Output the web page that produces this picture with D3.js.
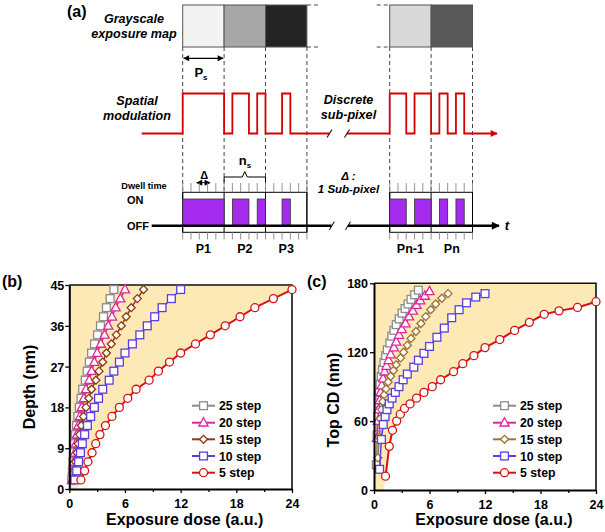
<!DOCTYPE html>
<html><head><meta charset="utf-8">
<script src="https://cdn.jsdelivr.net/npm/d3@7"></script>
<style>
body{margin:0;background:#fff}
svg{display:block}
text{font-family:"Liberation Sans",Arial,Helvetica,sans-serif;font-weight:bold;fill:#000}
</style>
</head><body>
<svg id="fig" width="605" height="532"></svg>
<script>
// ---------------- DATA ----------------
const depth = [2,4,6,8,10,12,14,16,18,20,22,24,26,28,30,32,34,36,38,40,42,44];
const dose5  = [1.25,1.65,2.0,2.45,2.85,3.3,3.9,4.6,5.4,6.3,7.2,8.6,9.6,10.8,12.0,13.6,15.2,16.8,18.4,20.0,22.0,24.0];
const dose10 = [0.6,0.8,1.0,1.2,1.4,1.65,1.95,2.3,2.7,3.15,3.6,4.3,4.8,5.4,6.0,6.8,7.6,8.4,9.2,10.0,11.0,12.0];
const dose15 = [0.42,0.55,0.67,0.82,0.95,1.1,1.3,1.53,1.8,2.1,2.4,2.87,3.2,3.6,4.0,4.53,5.07,5.6,6.13,6.67,7.33,8.0];
const dose20 = [0.31,0.41,0.5,0.61,0.71,0.83,0.98,1.15,1.35,1.58,1.8,2.15,2.4,2.7,3.0,3.4,3.8,4.2,4.6,5.0,5.5,6.0];
const dose25 = [0.25,0.33,0.4,0.49,0.57,0.66,0.78,0.92,1.08,1.26,1.44,1.72,1.92,2.16,2.4,2.72,3.04,3.36,3.68,4.0,4.4,4.8];
const cd5  = [12,38,52,60,66,71,75,80,85,90,96,103,110,117,124,131,139,146,153,156,159,164];
const cd10 = [18,44,57,64,70,75,80,85,90,96,101,107,113,119,125,133,141,150,157,163,168,171];
const cd15 = [28,46,62,70,77,83,88,94,99,104,109,115,120,126,132,138,145,151,157,162,167,171];
const cd20 = [45,60,70,78,85,91,97,103,108,113,118,124,129,135,140,145,151,156,161,165,169,173];
const cd25 = [22,48,64,76,85,92,99,105,111,117,122,128,134,139,144,149,154,158,162,166,170,174];
const stepLabels = ["25 step","20 step","15 step","10 step","5 step"];
const doseTicks = [0,6,12,18,24];
const doseMinor = [3,9,15,21];
const depthTicks = [0,9,18,27,36,45];
const cdTicks = [0,60,120,180];

// schematic data
const pixelNames = ["P1","P2","P3","Pn-1","Pn"];
const pixelSlot = [0,1,2,5,6];
const pixelGray = ["#f3f3f3","#a7a7a7","#242424","#d9d9d9","#585858"];
const pixelPattern = [[1,1,1,1,1],[0,1,1,0,1],[0,0,1,0,0],[1,1,0,1,1],[0,1,0,1,0]];

// ---------------- SETUP ----------------
const svg = d3.select("#fig");
const defs = svg.append("defs");
function arrowMarker(id, color, w, h){
  defs.append("marker").attr("id",id).attr("viewBox","0 0 10 10").attr("refX",9).attr("refY",5)
    .attr("markerWidth",w).attr("markerHeight",h).attr("orient","auto-start-reverse")
    .attr("markerUnits","userSpaceOnUse")
    .append("path").attr("d","M0,0 L10,5 L0,10 z").attr("fill",color);
}
arrowMarker("arrK","#000",9,8);
arrowMarker("arrR","#d40000",9,7);
arrowMarker("arrS","#000",7,6);

// ---------------- PANEL (a) ----------------
const sub = d3.scaleLinear().domain([0,35]).range([182.7, 182.7+41.4*7]);
const mapTop = 5, mapBot = 47;
const hiY = 93.5, loY = 133.5;
const boxTop = 192.3, boxBot = 232.3, onTop = 199, offY = 225.7;
const ga = svg.append("g");

ga.append("text").attr("x",67).attr("y",17).style("font-size","16px").text("(a)");

// grayscale boxes
ga.selectAll("rect.px").data(pixelSlot).join("rect").attr("class","px")
  .attr("x",d=>sub(d*5)).attr("y",mapTop).attr("width",d=>sub(d*5+5)-sub(d*5)).attr("height",mapBot-mapTop)
  .attr("fill",(d,i)=>pixelGray[i]).attr("stroke","#555").attr("stroke-width",1);
// dashed map extensions
const dashExt = [[sub(15),sub(15)+13],[sub(25)-13,sub(25)]];
[mapTop,mapBot].forEach(y=>{
  dashExt.forEach(e=>{
    ga.append("line").attr("x1",e[0]).attr("x2",e[1]).attr("y1",y).attr("y2",y)
      .attr("stroke","#444").attr("stroke-width",1).attr("stroke-dasharray","4,3");
  });
});
// dashed verticals
const bounds = [0,5,10,15,25,30,35];
ga.selectAll("line.vd").data(bounds).join("line").attr("class","vd")
  .attr("x1",d=>sub(d)).attr("x2",d=>sub(d)).attr("y1",mapBot).attr("y2",boxTop)
  .attr("stroke","#444").attr("stroke-width",1).attr("stroke-dasharray","4,3");

// text labels
function mtext(x,y,str,size,italic,anchor){
  const t = ga.append("text").attr("x",x).attr("y",y).style("font-size",size+"px")
    .attr("text-anchor",anchor||"middle");
  if(italic) t.style("font-style","italic");
  t.text(str); return t;
}
mtext(134,23,"Grayscale",12.6,true);
mtext(134,38,"exposure map",12.6,true);
mtext(137,104.5,"Spatial",12.6,true);
mtext(137,119.5,"modulation",12.6,true);
mtext(348.5,104,"Discrete",12.6,true);
mtext(348.5,119,"sub-pixel",12.6,true);
mtext(348.5,179.5,"Δ :",11.5,true);
mtext(348.5,192.5,"1 Sub-pixel",11.5,true);
mtext(144,188.5,"Dwell time",9.2,false);
mtext(127,204,"ON",11,false,"start");
mtext(127,229.8,"OFF",11,false,"start");
mtext(507,229.5,"t",13,true);

// Ps arrow
ga.append("line").attr("x1",sub(0)+1).attr("x2",sub(5)-1).attr("y1",58.3).attr("y2",58.3)
  .attr("stroke","#000").attr("stroke-width",1.3)
  .attr("marker-start","url(#arrS)").attr("marker-end","url(#arrS)");
const ps = ga.append("text").attr("x",201).attr("y",76.5).attr("text-anchor","middle").style("font-size","13px");
ps.append("tspan").text("P");
ps.append("tspan").attr("dy",3).style("font-size","8px").text("s");

// ns brace
const bc = (sub(5)+sub(10))/2;
ga.append("path").attr("d",`M${sub(5)},182 V177 H${bc-2.5} L${bc},171.5 L${bc+2.5},177 H${sub(10)} V182`)
  .attr("fill","none").attr("stroke","#000").attr("stroke-width",1);
const ns = ga.append("text").attr("x",245).attr("y",164.5).attr("text-anchor","middle").style("font-size","13px");
ns.append("tspan").text("n");
ns.append("tspan").attr("dy",3).style("font-size","8px").text("s");

// delta arrow
ga.append("line").attr("x1",sub(1.7)).attr("x2",sub(3.3)).attr("y1",182.7).attr("y2",182.7)
  .attr("stroke","#000").attr("stroke-width",1)
  .attr("marker-start","url(#arrS)").attr("marker-end","url(#arrS)");
mtext(sub(2.6),178.5,"Δ",11,false);

// red modulation line (step path)
function stepPts(startX, idxs, endX){
  const pts=[[startX,loY]];
  idxs.forEach(i=>{
    pixelPattern[i].forEach((v,j)=>{
      const u = pixelSlot[i]*5+j;
      const y = v? hiY: loY;
      const last = pts[pts.length-1];
      if(last[1]!==y) pts.push([sub(u),last[1]]);
      pts.push([sub(u),y],[sub(u+1),y]);
    });
  });
  const last = pts[pts.length-1];
  if(last[1]!==loY) pts.push([last[0],loY]);
  pts.push([endX,loY]);
  return pts;
}
const line = d3.line();
const red1 = stepPts(141.7,[0,1,2],329.3);
const red2 = stepPts(346.7,[3,4],497);
ga.append("path").attr("d",line(red1)).attr("fill","none").attr("stroke","#d40000").attr("stroke-width",1.8);
ga.append("path").attr("d",line(red2)).attr("fill","none").attr("stroke","#d40000").attr("stroke-width",1.8)
  .attr("marker-end","url(#arrR)");
// break slashes
[[329.5,loY],[347,loY],[331.8,offY],[348,offY]].forEach(p=>{
  ga.append("line").attr("x1",p[0]-2.5).attr("x2",p[0]+2.5).attr("y1",p[1]+4).attr("y2",p[1]-4)
    .attr("stroke","#222").attr("stroke-width",1.2);
});

// timing boxes
const groups = [[0,15],[25,35]];
groups.forEach(g=>{
  ga.append("rect").attr("x",sub(g[0])).attr("y",boxTop).attr("width",sub(g[1])-sub(g[0])).attr("height",boxBot-boxTop)
    .attr("fill","none").attr("stroke","#000").attr("stroke-width",1);
  for(let u=g[0];u<=g[1];u++){
    ga.append("line").attr("x1",sub(u)).attr("x2",sub(u)).attr("y1",183).attr("y2",boxTop)
      .attr("stroke","#888").attr("stroke-width",0.9);
    ga.append("line").attr("x1",sub(u)).attr("x2",sub(u)).attr("y1",boxBot).attr("y2",239.5)
      .attr("stroke","#888").attr("stroke-width",0.9);
  }
});
ga.selectAll("line.pb").data(bounds).join("line").attr("class","pb")
  .attr("x1",d=>sub(d)).attr("x2",d=>sub(d)).attr("y1",boxTop).attr("y2",boxBot)
  .attr("stroke","#000").attr("stroke-width",1);

// purple ON rects (merged runs)
const runs=[];
pixelPattern.forEach((p,i)=>{
  let s=null;
  p.concat([0]).forEach((v,j)=>{
    if(v && s===null) s=j;
    if(!v && s!==null){ runs.push([pixelSlot[i]*5+s, pixelSlot[i]*5+j]); s=null; }
  });
});
ga.selectAll("rect.on").data(runs).join("rect").attr("class","on")
  .attr("x",d=>sub(d[0])).attr("width",d=>sub(d[1])-sub(d[0])).attr("y",onTop).attr("height",offY-onTop)
  .attr("fill","#a52bef").attr("stroke","#333").attr("stroke-width",0.8);

// OFF line
ga.append("line").attr("x1",151.7).attr("x2",331.5).attr("y1",offY).attr("y2",offY).attr("stroke","#000").attr("stroke-width",2.4);
ga.append("line").attr("x1",348).attr("x2",499).attr("y1",offY).attr("y2",offY).attr("stroke","#000").attr("stroke-width",2.4)
  .attr("marker-end","url(#arrK)");

// pixel labels
ga.selectAll("text.pl").data(pixelSlot).join("text").attr("class","pl")
  .attr("x",d=>sub(d*5+2.5)).attr("y",252.8).attr("text-anchor","middle").style("font-size","12.5px")
  .text((d,i)=>pixelNames[i]);

// ---------------- PANELS (b),(c) ----------------
const FILL = "#fde9b5";
const seriesStyle = [
  {sym:"square", color:"#8c8c8c", lc:"#8c8c8c"},
  {sym:"triangle", color:"#e0269c", lc:"#e0269c"},
  {sym:"diamond", color:"#8b3a12", lc:"#8b3a12"},
  {sym:"square", color:"#5b3de3", lc:"#5b3de3"},
  {sym:"circle", color:"#d41414", lc:"#d41414"}
];
const dosesAll = [dose25,dose20,dose15,dose10,dose5];

function drawMarker(g, type, x, y, color){
  let p;
  if(type==="circle") p = g.append("circle").attr("cx",x).attr("cy",y).attr("r",4);
  else if(type==="square") p = g.append("rect").attr("x",x-3.9).attr("y",y-3.9).attr("width",7.8).attr("height",7.8);
  else if(type==="diamond") p = g.append("path").attr("d",`M${x},${y-4} L${x+4},${y} L${x},${y+4} L${x-4},${y} Z`);
  else p = g.append("path").attr("d",`M${x},${y-5} L${x+4.6},${y+3.3} L${x-4.6},${y+3.3} Z`);
  p.attr("fill","#fff").attr("stroke",color).attr("stroke-width",1.3);
}

function panel(cfg){
  const g = svg.append("g");
  const x = d3.scaleLinear().domain([0,24]).range(cfg.xr);
  const y = d3.scaleLinear().domain(cfg.yd).range(cfg.yr);
  // fill polygon
  const poly = [[0,cfg.yd[0]],[cfg.fillX0,cfg.yd[0]]]
    .concat(dose5.map((d,i)=>[d,cfg.ys[4][i]]))
    .concat([[24,cfg.yd[1]],[0,cfg.yd[1]]]);
  g.append("path").attr("d",d3.line().x(d=>x(d[0])).y(d=>y(d[1]))(poly)+"Z").attr("fill",FILL);
  // frame (top, right)
  g.append("path").attr("d",`M${cfg.xr[0]},${cfg.yr[1]} H${cfg.xr[1]} V${cfg.yr[0]}`)
    .attr("fill","none").attr("stroke","#111").attr("stroke-width",1.6);
  // series
  const ln = d3.line().x(d=>x(d[0])).y(d=>y(d[1]));
  dosesAll.forEach((ds,k)=>{
    const st = seriesStyle[k];
    const pts = ds.map((d,i)=>[d,cfg.ys[k][i]]);
    const lc = (cfg.lineColors && cfg.lineColors[k]) || st.lc;
    g.append("path").attr("d",ln(pts)).attr("fill","none").attr("stroke",lc).attr("stroke-width",k===4?2:1.5);
    const mc = (cfg.markColors && cfg.markColors[k]) || st.color;
    pts.forEach(p=>drawMarker(g, st.sym, x(p[0]), y(p[1]), mc));
  });
  // axes
  const ax = g.append("g").attr("transform",`translate(0,${cfg.yr[0]})`)
    .call(d3.axisBottom(x).tickValues(doseTicks).tickSize(4).tickSizeOuter(0).tickPadding(3));
  const axm = g.append("g").attr("transform",`translate(0,${cfg.yr[0]})`)
    .call(d3.axisBottom(x).tickValues(doseMinor).tickSize(3).tickFormat(""));
  axm.select(".domain").remove();
  const ay = g.append("g").attr("transform",`translate(${cfg.xr[0]},0)`)
    .call(d3.axisLeft(y).tickValues(cfg.yticks).tickSize(4).tickSizeOuter(0).tickPadding(cfg.ypad));
  [ax,axm,ay].forEach(a=>{
    a.selectAll(".tick line").attr("stroke","#000").attr("stroke-width",1.3);
    a.selectAll(".domain").attr("stroke","#000").attr("stroke-width",2);
    a.selectAll("text").style("font-size","12.5px").attr("font-family",null).attr("font-size",null).attr("fill","#000");
  });
  ax.selectAll("text").attr("y",19.3).attr("dy",null);
  ay.selectAll("text").attr("dy","0.36em");
  // labels
  g.append("text").attr("x",cfg.xlab[0]).attr("y",cfg.xlab[1]).attr("text-anchor","middle").style("font-size","16px").text("Exposure dose (a.u.)");
  g.append("text").attr("transform",`translate(${cfg.ylab[0]},${cfg.ylab[1]}) rotate(-90)`).attr("text-anchor","middle").style("font-size","16px").text(cfg.ytitle);
  g.append("text").attr("x",cfg.tag[0]).attr("y",cfg.tag[1]).style("font-size","16px").text(cfg.tagText);
  // legend
  const rows = [405.7,422.7,439.3,456,472.7];
  stepLabels.forEach((s,k)=>{
    const st = seriesStyle[k];
    const lc = (cfg.lineColors && cfg.lineColors[k]) || st.lc;
    const mc = (cfg.markColors && cfg.markColors[k]) || st.color;
    g.append("line").attr("x1",cfg.leg).attr("x2",cfg.leg+23).attr("y1",rows[k]).attr("y2",rows[k]).attr("stroke",lc).attr("stroke-width",2);
    drawMarker(g, st.sym, cfg.leg+11.5, rows[k], mc);
    g.append("text").attr("x",cfg.leg+27).attr("y",rows[k]+4.5).style("font-size","12.3px").text(s);
  });
}

panel({xr:[69.3,292], yr:[489,285], yd:[0,45], ys:[depth,depth,depth,depth,depth], fillX0:0.8,
  yticks:depthTicks, ypad:1, xlab:[184.7,525], ylab:[35,387], ytitle:"Depth (nm)",
  tag:[2,287], tagText:"(b)", leg:192});
panel({xr:[374,596], yr:[490,283.3], yd:[0,180], ys:[cd25,cd20,cd15,cd10,cd5], fillX0:1.05,
  yticks:cdTicks, ypad:2, xlab:[494,525], ylab:[338.5,400], ytitle:"Top CD (nm)",
  tag:[307,287], tagText:"(c)", leg:493,
  lineColors:[null,null,"#9c7434",null,null], markColors:[null,null,"#9c7434",null,null]});
</script>
</body></html>
